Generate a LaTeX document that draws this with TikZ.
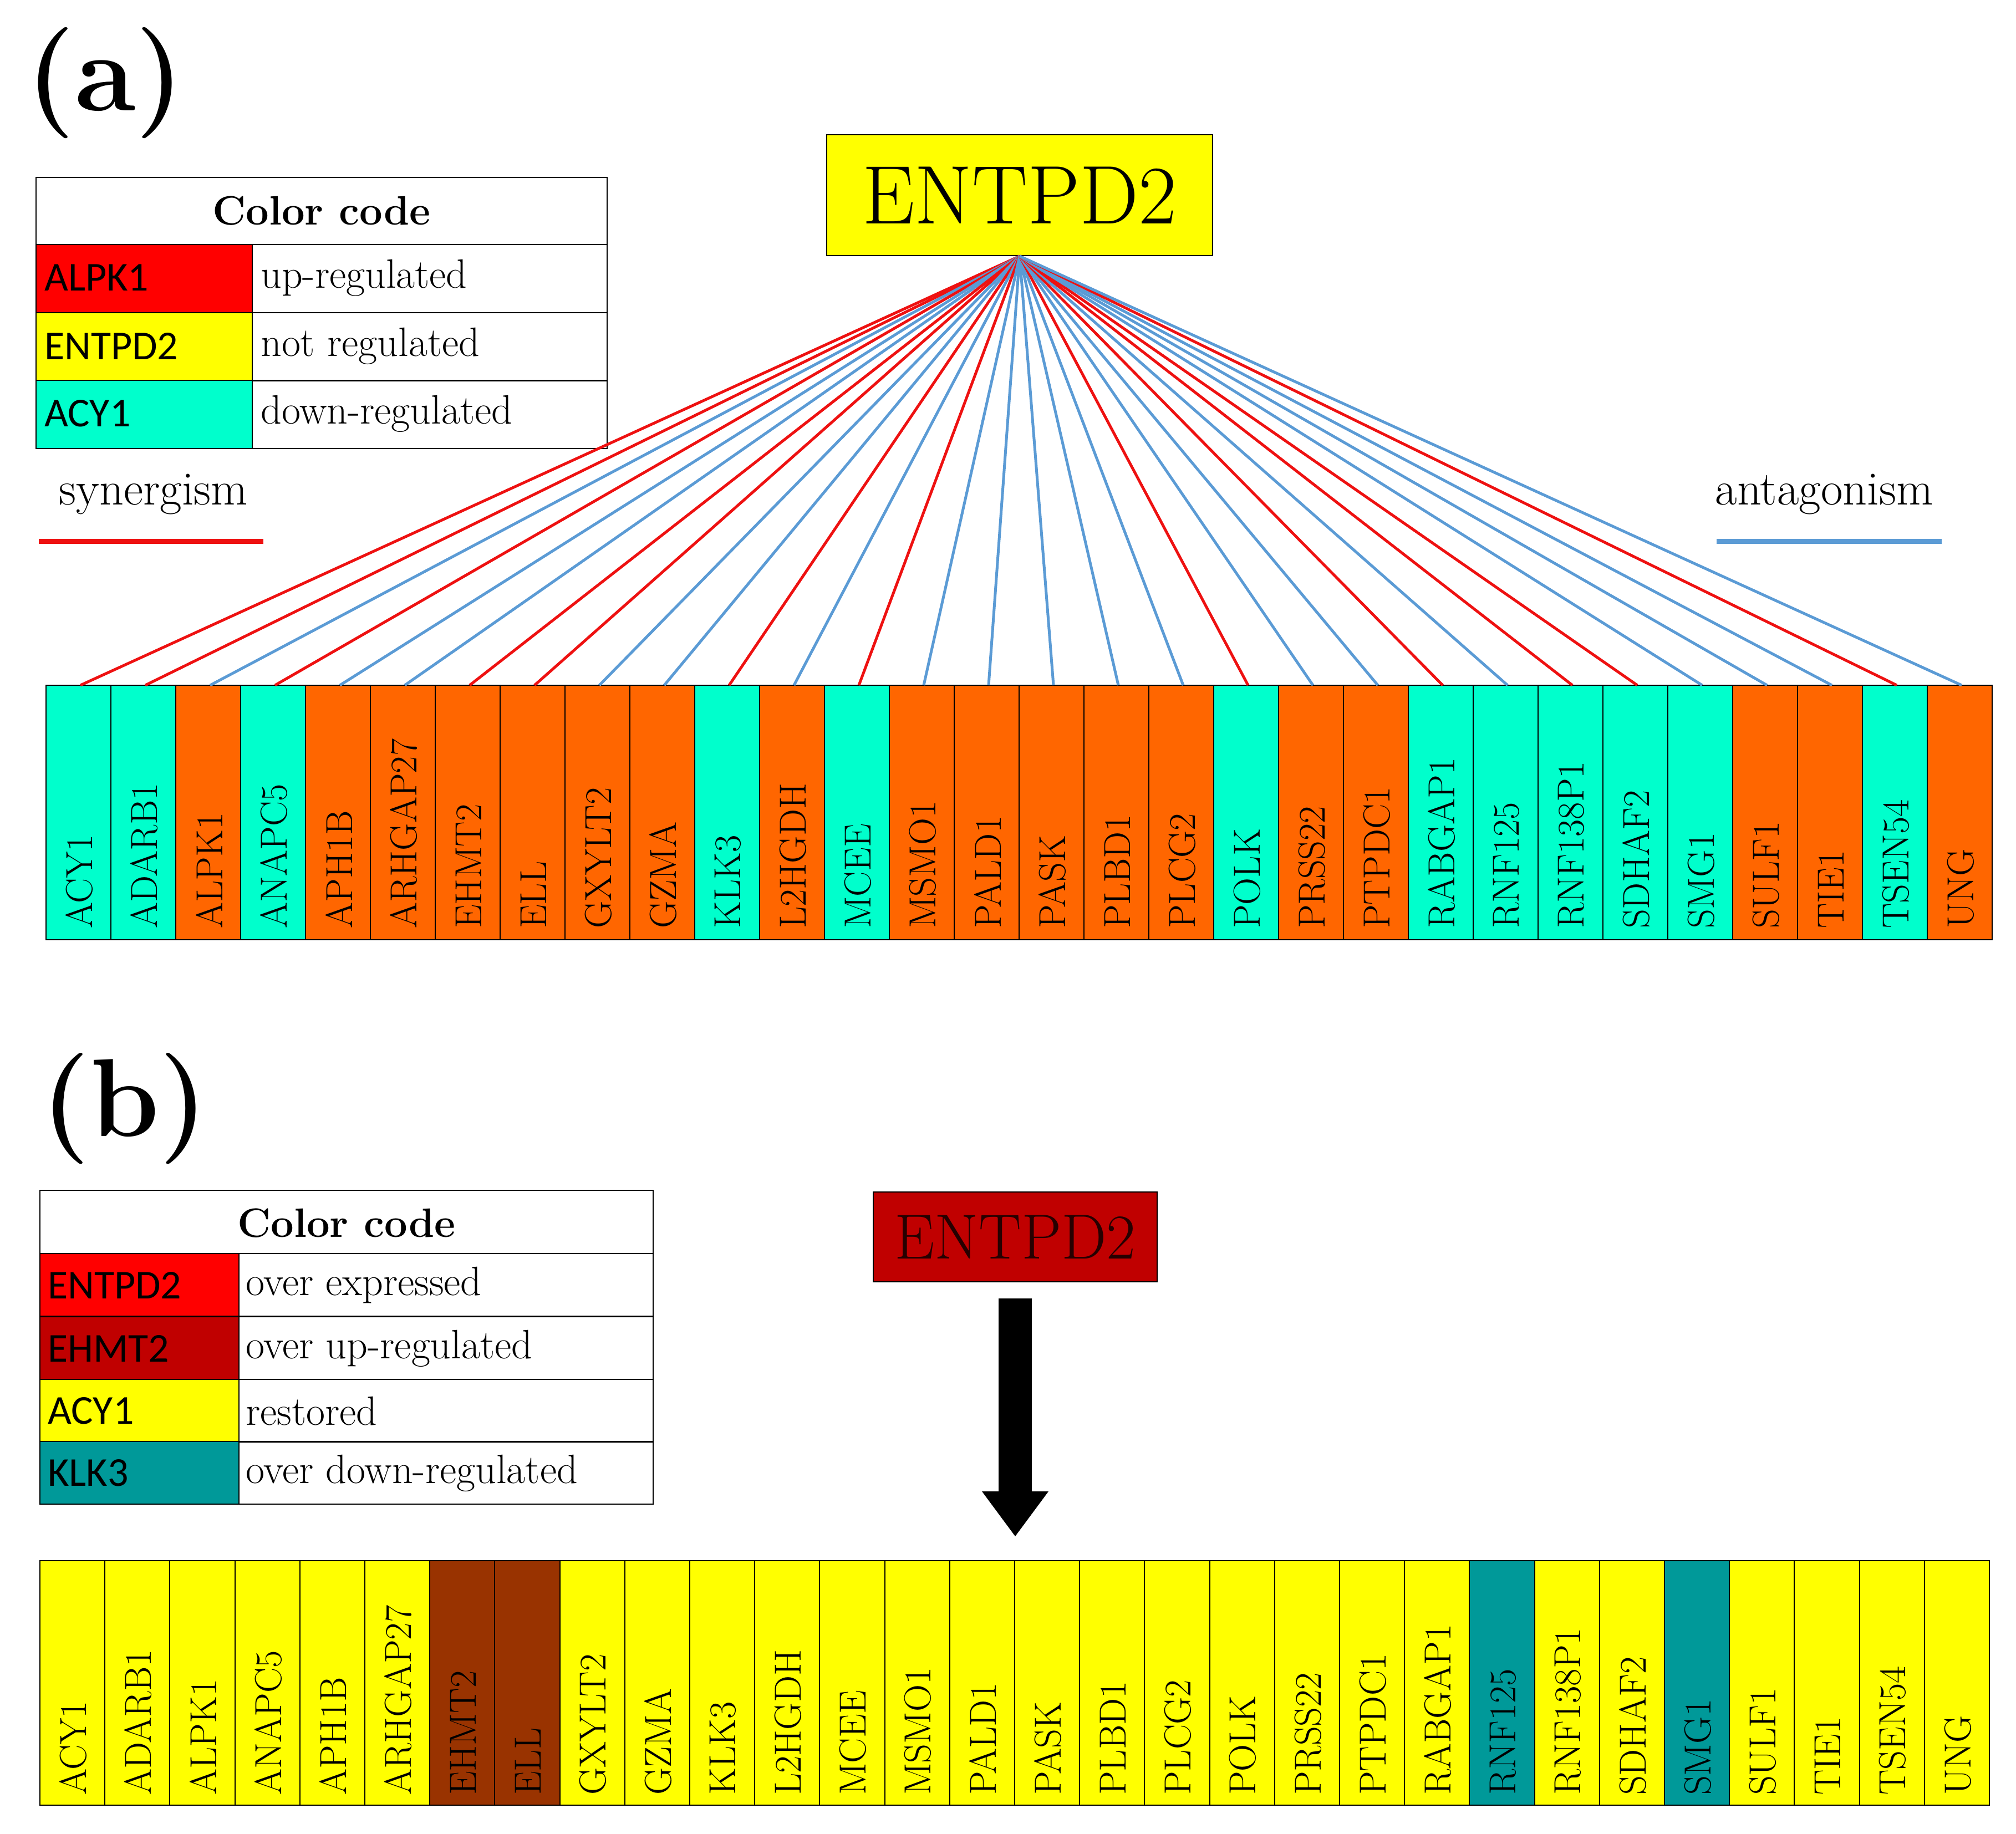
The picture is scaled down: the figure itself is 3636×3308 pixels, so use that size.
\documentclass[tikz,border=0pt]{standalone}
\usepackage{fontspec}
\newfontfamily\sans{Carlito}
\definecolor{tealA}{HTML}{00FFCC}
\definecolor{orA}{HTML}{FF6600}
\definecolor{ylw}{HTML}{FFFF00}
\definecolor{dred}{HTML}{C00000}
\definecolor{brn}{HTML}{993300}
\definecolor{dteal}{HTML}{009999}
\definecolor{syn}{HTML}{EE1111}
\definecolor{ant}{HTML}{5B9BD5}
\begin{document}
\begin{tikzpicture}[x=1pt,y=-1pt,
 cell/.style={draw=black,line width=2pt,inner sep=0pt},
 gl/.style={rotate=90,anchor=west,font=\fontsize{68}{68}\selectfont,inner sep=0pt},
 lt/.style={anchor=west,font=\fontsize{74}{74}\selectfont,inner sep=0pt},
 ct/.style={anchor=west,font=\sans\fontsize{74}{74}\selectfont,inner sep=0pt},
 hd/.style={font=\bfseries\fontsize{74}{74}\selectfont},
 lk/.style={line width=5pt}]
\useasboundingbox (0,0) rectangle (3636,3308);
\node[font=\bfseries\fontsize{200}{200}\selectfont] (la) at (190,150) {(a)};
\node[font=\bfseries\fontsize{200}{200}\selectfont] (lb) at (225,2000) {(b)};
% legend a
\draw[cell] (65,320) rectangle (1095,441);
\node[hd] (ha) at (580,380) {Color code};
\foreach \y/\c/\g/\t [count=\i] in {441/red/ALPK1/up-regulated,564/ylw/ENTPD2/not regulated,686/tealA/ACY1/down-regulated}{
 \draw[cell,fill=\c] (65,\y) rectangle (455,\y+123);
 \draw[cell] (455,\y) rectangle (1095,\y+123);
 \node[ct] (ca\i) at (80,\y+60) {\g};
 \node[lt] (ta\i) at (470,\y+60) {\t};}
\node[font=\fontsize{86}{86}\selectfont] (syn) at (277,892) {synergism};
\draw[syn,line width=9pt] (70,976) -- (475,976);
\node[font=\fontsize{86}{86}\selectfont] (ant) at (3290,892) {antagonism};
\draw[ant,line width=9pt] (3096,976) -- (3502,976);
% top node
\node[draw=black,line width=2pt,fill=ylw,minimum width=696pt,minimum height=218pt,font=\fontsize{150}{150}\selectfont] (E) at (1839,352) {ENTPD2};
% genes top
\foreach \g/\c/\l [count=\i from 0] in {ACY1/tealA/syn,ADARB1/tealA/syn,ALPK1/orA/ant,ANAPC5/tealA/syn,APH1B/orA/ant,ARHGAP27/orA/ant,EHMT2/orA/syn,ELL/orA/syn,GXYLT2/orA/ant,GZMA/orA/ant,KLK3/tealA/syn,L2HGDH/orA/ant,MCEE/tealA/syn,MSMO1/orA/ant,PALD1/orA/ant,PASK/orA/ant,PLBD1/orA/ant,PLCG2/orA/ant,POLK/tealA/syn,PRSS22/orA/ant,PTPDC1/orA/ant,RABGAP1/tealA/syn,RNF125/tealA/ant,RNF138P1/tealA/syn,SDHAF2/tealA/syn,SMG1/tealA/ant,SULF1/orA/ant,TIE1/orA/ant,TSEN54/tealA/syn,UNG/orA/ant}{
 \pgfmathsetmacro\xl{83+117*\i}
 \draw[cell,fill=\c] (\xl,1236) rectangle (\xl+117,1695);
 \coordinate (t\i) at (\xl+62,1236);
 \node[gl] (g\i) at (\xl+60,1675) {\g};
 \draw[lk,\l] (E.south) -- (t\i);
}
% legend b
\draw[cell] (72,2147) rectangle (1178,2261);
\node[hd] (hb) at (625,2206) {Color code};
\foreach \y/\c/\g/\t [count=\i] in {2261/red/ENTPD2/over expressed,2375/dred/EHMT2/over up-regulated,2488/ylw/ACY1/restored,2600/dteal/KLK3/over down-regulated}{
 \draw[cell,fill=\c] (72,\y) rectangle (431,\y+113);
 \draw[cell] (431,\y) rectangle (1178,\y+113);
 \node[ct] (cb\i) at (86,\y+57) {\g};
 \node[lt] (tb\i) at (443,\y+57) {\t};}
\node[draw=black,line width=2pt,fill=dred,minimum width=512pt,minimum height=162pt,font=\fontsize{115}{115}\selectfont,text=black!85!red] (E2) at (1831,2231) {ENTPD2};
\coordinate (ar) at (1831,2771);
\fill[black] (1801,2342) -- (1861,2342) -- (1861,2690) -- (1891,2690) -- (ar) -- (1771,2690) -- (1801,2690) -- cycle;
\foreach \g/\c [count=\i from 0] in {ACY1/ylw,ADARB1/ylw,ALPK1/ylw,ANAPC5/ylw,APH1B/ylw,ARHGAP27/ylw,EHMT2/brn,ELL/brn,GXYLT2/ylw,GZMA/ylw,KLK3/ylw,L2HGDH/ylw,MCEE/ylw,MSMO1/ylw,PALD1/ylw,PASK/ylw,PLBD1/ylw,PLCG2/ylw,POLK/ylw,PRSS22/ylw,PTPDC1/ylw,RABGAP1/ylw,RNF125/dteal,RNF138P1/ylw,SDHAF2/ylw,SMG1/dteal,SULF1/ylw,TIE1/ylw,TSEN54/ylw,UNG/ylw}{
 \pgfmathsetmacro\xl{72+117.2*\i}
 \draw[cell,fill=\c] (\xl,2815) rectangle (\xl+117.2,3256);
 \node[gl] (h\i) at (\xl+60,3238) {\g};
}
\end{tikzpicture}
\end{document}
